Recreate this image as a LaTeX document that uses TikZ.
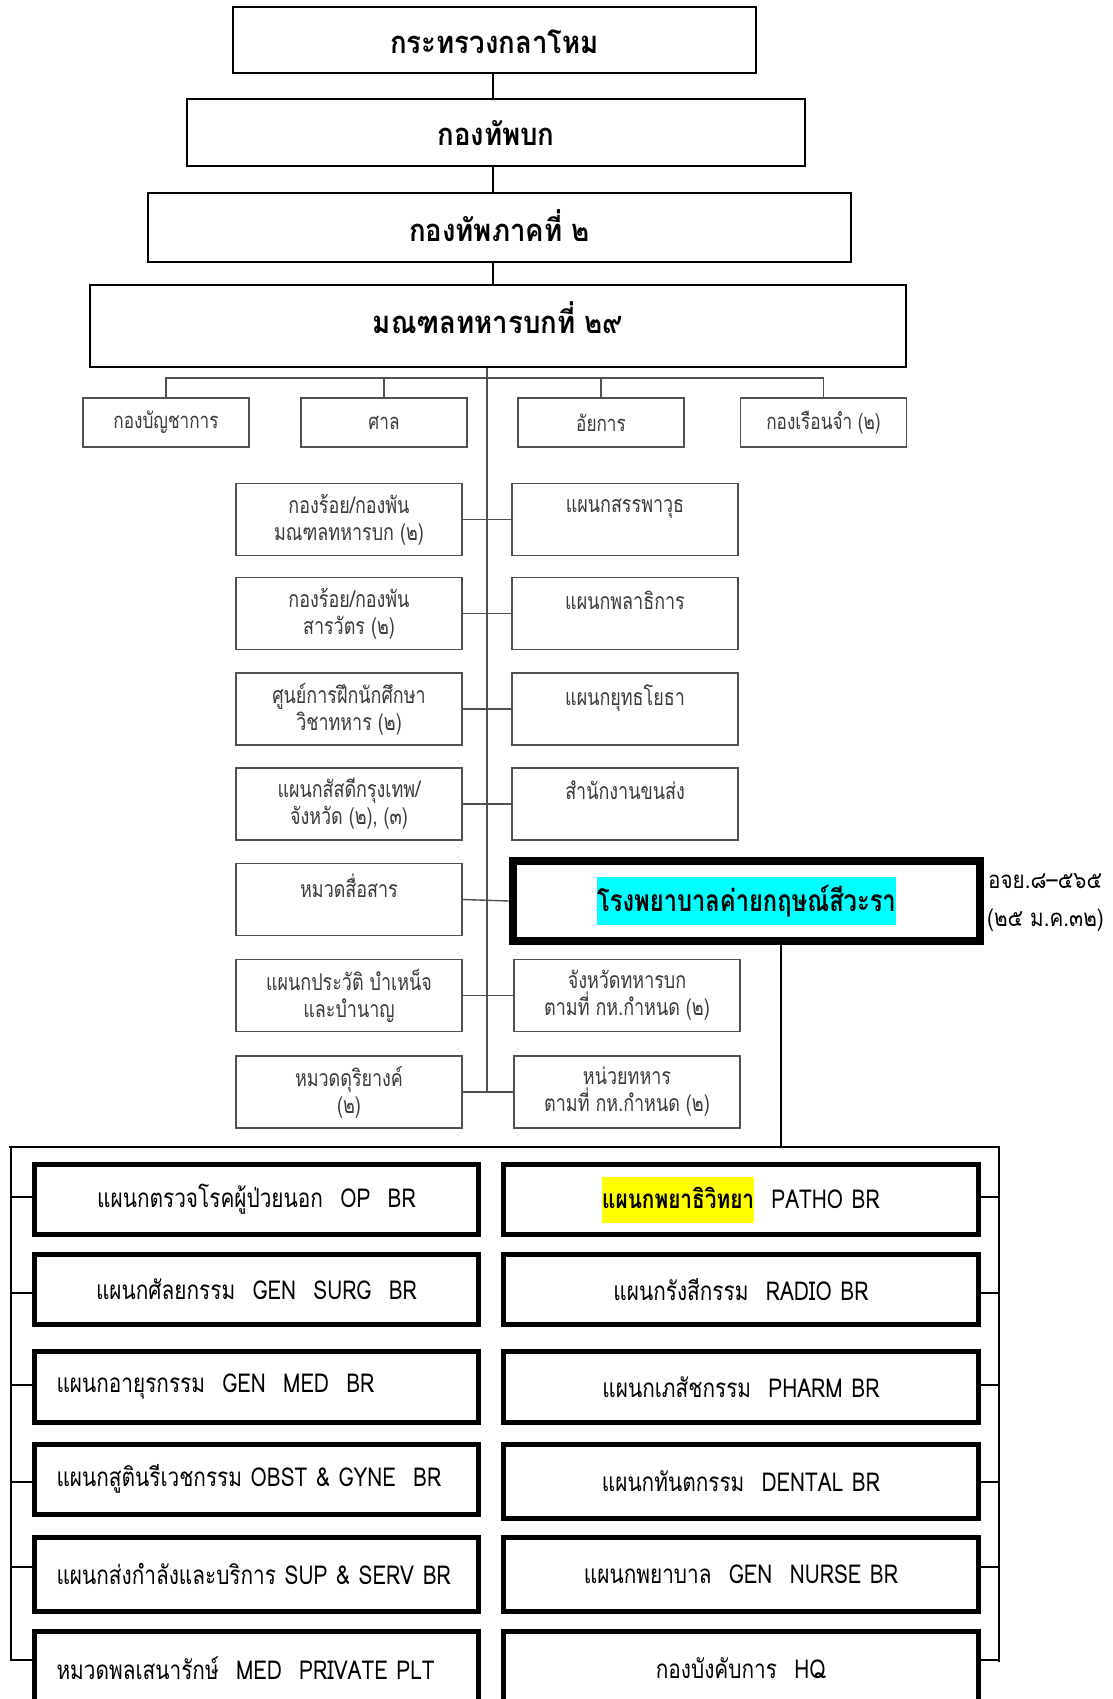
\documentclass[tikz,border=0pt]{standalone}
\usepackage{fontspec}
\newfontfamily\thaiT[Script=Thai,FakeStretch=0.89]{Loma}
\newfontfamily\thaiH[Script=Thai,FakeStretch=0.79]{Loma}
\newfontfamily\thaiM[Script=Thai,FakeStretch=0.78]{Loma}
\newfontfamily\thaiB[Script=Thai,FakeStretch=0.8]{Loma}
\newfontfamily\thaiN[Script=Thai,FakeStretch=0.86]{Loma}
\definecolor{midgray}{HTML}{505050}
\definecolor{midtext}{HTML}{3A3A3A}
\definecolor{hlcyan}{RGB}{0,255,255}
\definecolor{hlyellow}{RGB}{255,255,0}
\newcommand\hlbox[4]{{\setlength\fboxsep{0pt}\colorbox{#1}{\rule[-#2]{0pt}{#3}#4}}}
\begin{document}
\begin{tikzpicture}[x=1pt,y=-1pt,
  topbox/.style={draw=black, line width=1.6pt, inner sep=0pt, text height=27pt, text depth=0pt, font=\thaiT\bfseries\fontsize{31}{34}\selectfont},
  smallbox/.style={draw=midgray, line width=1.4pt, inner sep=0pt, minimum width=166pt, minimum height=49pt, text=midtext, font=\thaiM\fontsize{22}{27}\selectfont},
  midbox/.style={draw=midgray, line width=1.4pt, inner sep=0pt, minimum width=226pt, minimum height=72pt, text=midtext, align=center, font=\thaiM\fontsize{23}{27}\selectfont},
  hospbox/.style={draw=black, line width=8pt, inner sep=0pt, minimum width=467pt, minimum height=80pt, font=\thaiH\bfseries\fontsize{30}{34}\selectfont},
  botbox/.style={draw=black, line width=5pt, inner sep=0pt, minimum height=70pt, font=\thaiB\fontsize{26}{30}\selectfont},
  botL/.style={botbox, minimum width=444pt, text width=400pt, align=left},
  botLc/.style={botbox, minimum width=444pt, text width=400pt, align=center},
  botR/.style={botbox, minimum width=475pt, text width=431pt, align=center},
  conn/.style={draw=black, line width=1.5pt},
  gconn/.style={draw=midgray, line width=1.4pt},
  framel/.style={draw=black, line width=2pt},
  note/.style={inner sep=0pt, anchor=west, font=\thaiN\fontsize{24}{28}\selectfont}
]
\fill[white] (0,0) rectangle (1112,1699);
\clip (0,0) rectangle (1112,1699);

% top chain
\node[topbox, minimum width=523pt, minimum height=66pt] (t1) at (494.5,40) {กระทรวงกลาโหม};
\node[topbox, minimum width=618pt, minimum height=67pt] (t2) at (496,132.5) {กองทัพบก};
\node[topbox, minimum width=703pt, minimum height=69pt] (t3) at (499.5,227.5) {กองทัพภาคที่ ๒};
\node[topbox, minimum width=816pt, minimum height=82pt, text depth=13pt] (t4) at (498,326) {มณฑลทหารบกที่ ๒๙};
\coordinate (ctop) at (493,0);
\draw[conn] (t1.south -| ctop) -- (t2.north -| ctop);
\draw[conn] (t2.south -| ctop) -- (t3.north -| ctop);
\draw[conn] (t3.south -| ctop) -- (t4.north -| ctop);

% small boxes
\node[smallbox] (s1) at (166,422.5) {กองบัญชาการ};
\node[smallbox] (s2) at (384,422.5) {ศาล};
\node[smallbox] (s3) at (601,422.5) {อัยการ};
\node[smallbox] (s4) at (823.5,422.5) {กองเรือนจำ (๒)};
\coordinate (bus) at (0,378);
\draw[gconn] (s1.north) -- (s1.north |- bus) -- (s4.north |- bus) -- (s4.north);
\draw[gconn] (s2.north) -- (s2.north |- bus);
\draw[gconn] (s3.north) -- (s3.north |- bus);

% central spine
\coordinate (cv) at (487,1092);
\draw[gconn] (t4.south -| cv) -- (cv);

% middle rows
\node[midbox] (L1) at (349,519.5) {กองร้อย/กองพัน\\มณฑลทหารบก (๒)};
\node[midbox] (L2) at (349,613.5) {กองร้อย/กองพัน\\สารวัตร (๒)};
\node[midbox] (L3) at (349,709) {ศูนย์การฝึกนักศึกษา\\วิชาทหาร (๒)};
\node[midbox] (L4) at (349,804) {แผนกสัสดีกรุงเทพ/\\จังหวัด (๒), (๓)};
\node[midbox] (L5) at (349,899.5) {หมวดสื่อสาร\\\mbox{}};
\node[midbox] (L6) at (349,995.5) {แผนกประวัติ บำเหน็จ\\และบำนาญ};
\node[midbox] (L7) at (349,1092) {หมวดดุริยางค์\\(๒)};

\node[midbox] (R1) at (625,519.5) {แผนกสรรพาวุธ\\\mbox{}};
\node[midbox] (R2) at (625,613.5) {แผนกพลาธิการ\\\mbox{}};
\node[midbox] (R3) at (625,709) {แผนกยุทธโยธา\\\mbox{}};
\node[midbox] (R4) at (625,804) {สำนักงานขนส่ง\\\mbox{}};
\node[hospbox] (H) at (746.5,901) {\hlbox{hlcyan}{14pt}{48pt}{โรงพยาบาลค่ายกฤษณ์สีวะรา}};
\node[midbox] (R6) at (627,995.5) {จังหวัดทหารบก\\ตามที่ กห.กำหนด (๒)};
\node[midbox] (R7) at (627,1092) {หน่วยทหาร\\ตามที่ กห.กำหนด (๒)};

\draw[gconn] (L1.east) -- (R1.west);
\draw[gconn] (L2.east) -- (R2.west);
\draw[gconn] (L3.east) -- (R3.west);
\draw[gconn] (L4.east) -- (R4.west);
\draw[gconn] (L5.east) -- (H.west);
\draw[gconn] (L6.east) -- (R6.west);
\draw[gconn] (L7.east) -- (R7.west);

\node[note] (n1) at (988,881) {อจย.๘–๕๖๕};
\node[note] (n2) at (987,920) {(๒๕ ม.ค.๓๒)};

% hospital branch frame
\coordinate (hv) at (781,1147);
\coordinate (fL) at (9,1147);
\coordinate (fR) at (1000,1147);
\coordinate (fLb) at (11,1661);
\coordinate (fRb) at (999,1662);
\draw[framel] (H.south -| hv) -- (hv);
\draw[framel] (fL) -- (fR);
\draw[conn] (fL -| fLb) -- (fLb);
\draw[conn] (fR -| fRb) -- (fRb);

% bottom boxes
\node[botLc] (B1) at (256.5,1199.5) {แผนกตรวจโรคผู้ป่วยนอก~ OP~ BR};
\node[botLc] (B2) at (256.5,1289.5) {แผนกศัลยกรรม~ GEN~ SURG~ BR};
\node[botL, minimum height=71pt] (B3) at (256.5,1387) {แผนกอายุรกรรม~ GEN~ MED~ BR};
\node[botL] (B4) at (256.5,1479) {แผนกสูตินรีเวชกรรม OBST \& GYNE~ BR};
\node[botL, minimum height=74pt] (B5) at (256.5,1574.5) {แผนกส่งกำลังและบริการ SUP \& SERV BR};
\node[botL, minimum height=74pt] (B6) at (256.5,1668.5) {หมวดพลเสนารักษ์~ MED~ PRIVATE PLT};

\node[botR] (C1) at (741,1199.5) {\hlbox{hlyellow}{14pt}{46pt}{\bfseries แผนกพยาธิวิทยา}~ PATHO BR};
\node[botR] (C2) at (741,1289.5) {แผนกรังสีกรรม~ RADIO BR};
\node[botR, minimum height=71pt] (C3) at (741,1387) {แผนกเภสัชกรรม~ PHARM BR};
\node[botR, minimum height=74pt] (C4) at (741,1481.5) {แผนกทันตกรรม~ DENTAL BR};
\node[botR, minimum height=74pt] (C5) at (741,1574.5) {แผนกพยาบาล~ GEN~ NURSE BR};
\node[botR, minimum height=74pt] (C6) at (741,1668.5) {กองบังคับการ~ HQ};

\foreach \b/\s in {B1/2.5,B2/-3.5,B3/2,B4/-3,B5/7.5,B6/8.5}{
  \draw[framel] ([yshift=\s pt]\b.west) -- ([yshift=\s pt]\b.west -| fLb);
}
\foreach \b/\s in {C1/2.5,C2/-3.5,C3/2,C4/0,C5/7.5,C6/8.5}{
  \draw[framel] ([yshift=\s pt]\b.east) -- ([yshift=\s pt]\b.east -| fRb);
}
\end{tikzpicture}
\end{document}
